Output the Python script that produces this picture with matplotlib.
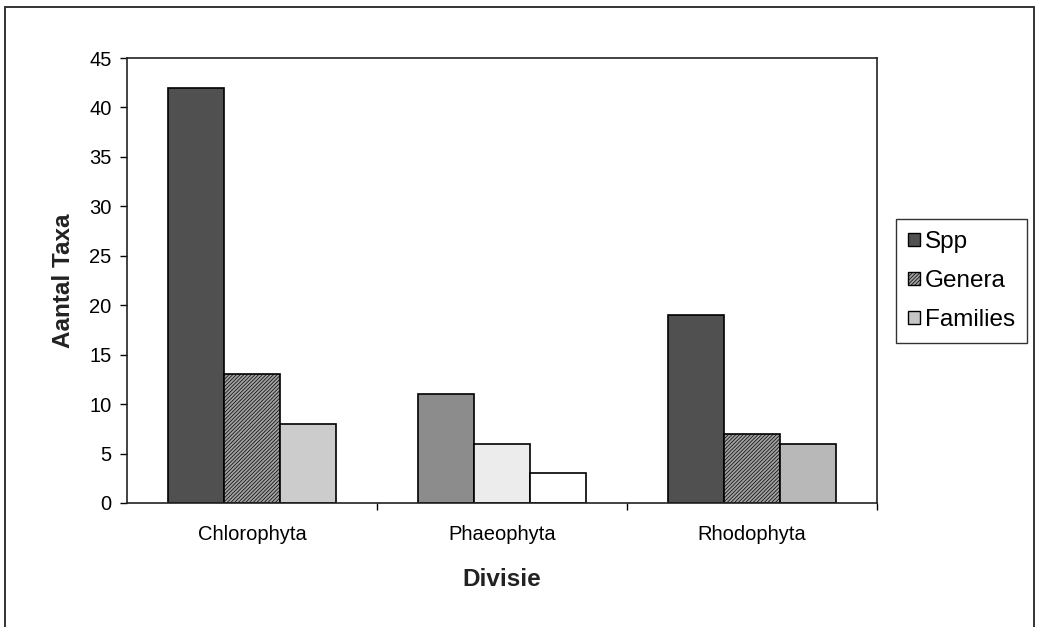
import numpy as np
import matplotlib
matplotlib.use('Agg')
import matplotlib.pyplot as plt
from matplotlib.patches import Patch, Rectangle

plt.rcParams['font.family'] = ['Liberation Sans', 'DejaVu Sans']
plt.rcParams['hatch.linewidth'] = 0.5

# Data: number of taxa per division
divisions = ['Chlorophyta', 'Phaeophyta', 'Rhodophyta']
series = ['Spp', 'Genera', 'Families']
spp = [42, 11, 19]
genera = [13, 6, 7]
families = [8, 3, 6]
values = [spp, genera, families]

# fill per series, and per bar where a division was shaded differently
legend_fill = ['#505050', '#a0a0a0', '#c6c6c6']
bar_fill = [
    ['#505050', '#8c8c8c', '#505050'],
    ['#a0a0a0', '#ececec', '#a0a0a0'],
    ['#cccccc', '#ffffff', '#b8b8b8'],
]
HATCH = '/' * 9
bar_hatch = [
    [None, None, None],
    [HATCH, None, HATCH],
    [None, None, None],
]

W, H = 1039, 627
fig = plt.figure(figsize=(W / 100, H / 100), dpi=100)
fig.patch.set_facecolor('white')

# chart border
fig.patches.append(Rectangle((5 / W, -0.05), (1034 - 5) / W, 1.05 - 7 / H,
                             transform=fig.transFigure, fill=False,
                             edgecolor='#333333', linewidth=1.4))

ax = fig.add_axes([127 / W, 1 - 503 / H, (877 - 127) / W, (503 - 58) / H])

x = np.arange(len(divisions))
width = 0.224
for i, vals in enumerate(values):
    offs = (i - 1) * width
    for j, v in enumerate(vals):
        ax.bar(x[j] + offs, v, width, color=bar_fill[i][j], edgecolor='black',
               linewidth=1.2, hatch=bar_hatch[i][j])

ax.set_xlim(-0.5, 2.5)
ax.set_ylim(0, 45)
ax.set_yticks(np.arange(0, 46, 5))
ax.set_xticks(x)
ax.set_xticklabels(divisions)
ax.set_xticks([0.5, 1.5, 2.5], minor=True)
ax.tick_params(axis='x', which='major', length=0, pad=16, labelsize=14.5)
ax.tick_params(axis='x', which='minor', length=5, width=1, direction='out')
ax.tick_params(axis='y', length=5, width=1, direction='out', pad=6, labelsize=14.5)
for s in ax.spines.values():
    s.set_linewidth(1.2)
    s.set_color('#222222')

ax.set_ylabel('Aantal Taxa', fontsize=17.5, fontweight='bold', labelpad=10, color='#222222')
ax.set_xlabel('Divisie', fontsize=17.5, fontweight='bold', labelpad=17, color='#222222')

handles = [Patch(facecolor=legend_fill[k], edgecolor='black', linewidth=1,
                 hatch=HATCH if k == 1 else None) for k in range(3)]
leg = fig.legend(handles, series, loc='upper left',
                 bbox_to_anchor=(896 / W, 1 - 219 / H), borderaxespad=0,
                 fancybox=False, edgecolor='#333333', fontsize=17.5,
                 handlelength=0.5, handleheight=0.5, handletextpad=0.2,
                 labelspacing=0.7, borderpad=0.5, framealpha=1)
leg.get_frame().set_linewidth(1)

fig.savefig('out.png', dpi=100)
